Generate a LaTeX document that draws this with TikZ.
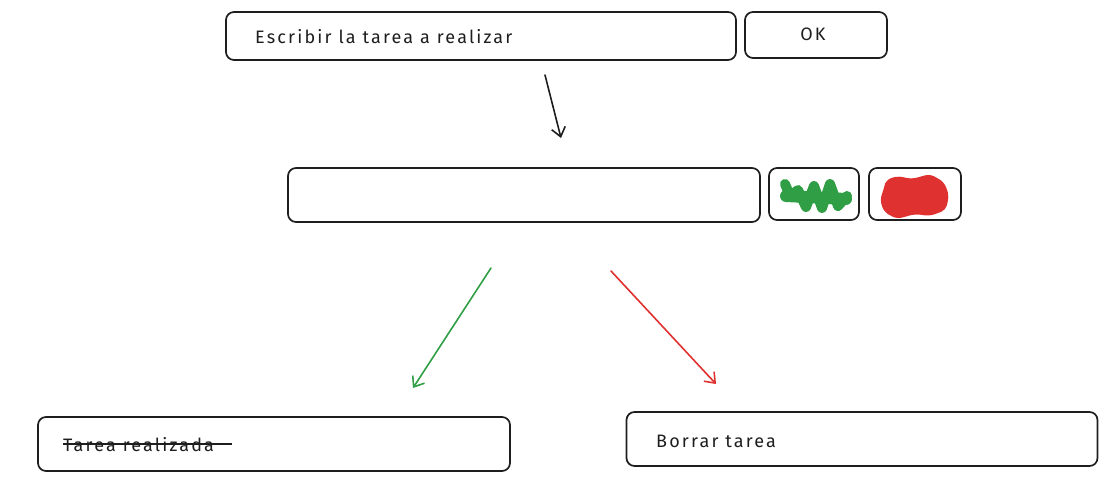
\documentclass[tikz,border=0pt]{standalone}
\usepackage{fontspec}
\setmainfont{Fira Sans}[LetterSpace=12]
\usetikzlibrary{arrows.meta}
\definecolor{ink}{HTML}{1E1E1E}
\definecolor{okgreen}{HTML}{2F9E44}
\definecolor{delred}{HTML}{E03131}
\tikzset{
  box/.style={draw=ink, line width=1.7pt, rounded corners=8pt, minimum height=48pt, inner sep=0pt},
  lbl/.style={anchor=west, inner sep=0pt, text=ink, font=\fontsize{18}{21}\selectfont},
  flow/.style={line width=1.6pt, line cap=round, -{Straight Barb[length=9pt, width=14pt]}}
}

\begin{document}
\begin{tikzpicture}[x=1pt, y=-1pt]
\useasboundingbox (0,0) rectangle (1108,481);

% Input row
\node[box, minimum width=510pt] (input) at (481,36) {};
\node[box, minimum width=142pt, minimum height=46pt] (ok) at (816,35) {};
\node[lbl] (inputtxt) at (255,37) {Escribir la tarea a realizar};
\node[lbl, anchor=center] (oktxt) at (813,34) {OK};

% Task row
\node[box, minimum width=472pt, minimum height=54pt] (task) at (524,195) {};
\node[box, minimum width=90pt, minimum height=52pt] (check) at (814,194) {};
\node[box, minimum width=92pt, minimum height=52pt] (delete) at (915,194) {};

% Scribbles
\draw[okgreen, line width=10pt, line cap=round, line join=round]
  (785,184) -- (790,196) -- (798,190) -- (806,207) -- (814,186) -- (822,208)
  -- (830,184) -- (838,206) -- (847,196);
\draw[okgreen, line width=12pt, line cap=round] (786,196) -- (846,199);
\fill[delred, rounded corners=5pt] (884,188) -- (886,180) -- (897,176) -- (912,179)
  -- (930,174) -- (944,182) -- (949,195) -- (946,210) -- (930,216) -- (915,214)
  -- (897,219) -- (884,212) -- (880,200) -- cycle;

% Result row
\node[box, minimum width=472pt, minimum height=54pt] (done) at (274,444) {};
\node[box, minimum width=471pt, minimum height=54pt] (remove) at (862,439) {};
\node[lbl] (donetxt) at (63,445) {Tarea realizada};
\node[lbl] (removetxt) at (656,441) {Borrar tarea};
\draw[ink, line width=1.3pt] ([yshift=1pt]donetxt.west) -- ++(169,0);

% Connections
\coordinate (a1) at (545,75);  \coordinate (a2) at (561,138);
\coordinate (g1) at (491,268); \coordinate (g2) at (413,388);
\coordinate (r1) at (611,271); \coordinate (r2) at (716,384);
\draw[flow, ink] (a1) -- (a2);
\draw[flow, okgreen] (g1) -- (g2);
\draw[flow, delred] (r1) -- (r2);
\end{tikzpicture}
\end{document}
